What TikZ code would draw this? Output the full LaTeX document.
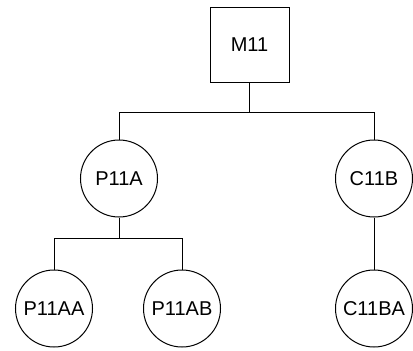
\documentclass[tikz,border=0pt]{standalone}
\usepackage{fontspec}
\setmainfont{Liberation Sans}
\usepackage{tikz}
\usetikzlibrary{positioning}

\begin{document}
\begin{tikzpicture}[
    x=1pt,y=-1pt,
    module/.style={draw,line width=1pt,minimum width=79pt,minimum height=75pt,
                   inner sep=0pt,font=\fontsize{20}{22}\selectfont},
    unit/.style={draw,circle,line width=1pt,minimum size=77pt,inner sep=0pt,
                 font=\fontsize{20}{22}\selectfont},
    link/.style={line width=1pt}
  ]
    \useasboundingbox (0,0) rectangle (413,351);

    \node[module] (M11) at (249.5,44.5) {M11};
    \node[unit] (P11A) at (119,178.5) {P11A};
    \node[unit] (C11B) at (374,178.5) {C11B};
    \node[unit] (P11AA) at (54,308.5) {P11AA};
    \node[unit] (P11AB) at (182,308.5) {P11AB};
    \node[unit] (C11BA) at (374,308.5) {C11BA};

    \coordinate (mbus) at (249.5,112);
    \coordinate (pbus) at (119,238);

    \draw[link] (M11.south) -- (mbus) -| (P11A.north);
    \draw[link] (mbus) -| (C11B.north);
    \draw[link] (P11A.south) -- (pbus) -| (P11AA.north);
    \draw[link] (pbus) -| (P11AB.north);
    \draw[link] (C11B) -- (C11BA);
  \end{tikzpicture}
\end{document}
